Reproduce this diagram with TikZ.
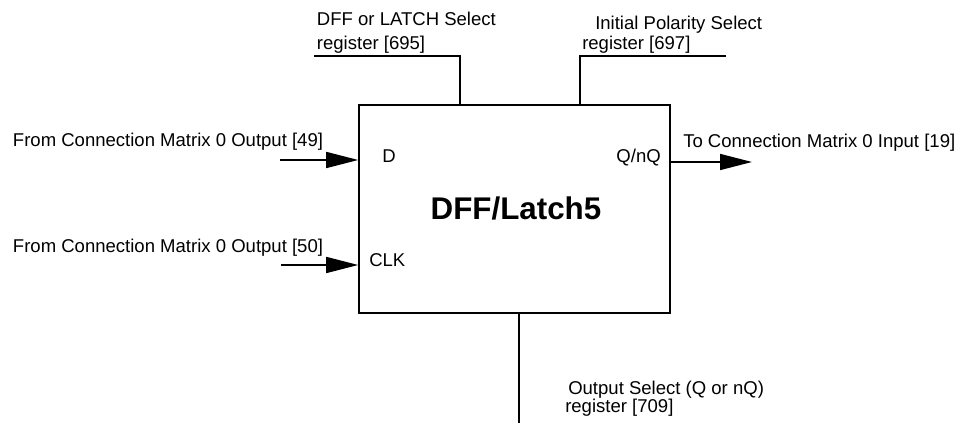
\documentclass[tikz,border=0pt]{standalone}
\usepackage{fontspec}
\setmainfont{Liberation Sans}
\usetikzlibrary{arrows.meta}

\tikzset{
  wire/.style={line width=1.2pt},
  sig/.style={wire, -{Triangle[length=24pt,width=12pt]}},
  lbl/.style={inner sep=0pt, anchor=base west, align=left,
    font=\fontsize{13.9}{18}\selectfont},
}

\begin{document}
\begin{tikzpicture}[x=0.75pt, y=-0.75pt]
    \useasboundingbox (0,0) rectangle (958,423);

    % Draw the block
    \node[draw, wire, minimum width=233.25pt, minimum height=156pt, inner sep=0pt] (dff) at (514.5,209) {};
    \node[inner sep=0pt, anchor=base, font=\fontsize{23.5}{28}\selectfont\bfseries] (title) at (516,220) {DFF/Latch5};

    % Pin names
    \node[lbl] (pinD) at (382,162.5) {D};
    \node[lbl] (pinCLK) at (369,267) {CLK};
    \node[lbl, anchor=base east] (pinQ) at (661,162.5) {Q/nQ};

    % Inputs and output
    \coordinate (inD) at (280,160);
    \coordinate (inCLK) at (281,265);
    \coordinate (outQ) at (752,162);
    \draw[sig] (inD) -- (inD -| dff.west);
    \draw[sig] (inCLK) -- (inCLK -| dff.west);
    \draw[sig] (outQ -| dff.east) -- (outQ);
    \node[lbl] (fromD) at (12.7,147) {From Connection Matrix 0 Output [49]};
    \node[lbl] (fromCLK) at (12.7,253) {From Connection Matrix 0 Output [50]};
    \node[lbl] (toQ) at (683,148) {To Connection Matrix 0 Input [19]};

    % Register lines
    \coordinate (regA) at (314,56);
    \coordinate (tapA) at (460,0);
    \coordinate (regB) at (726,56);
    \coordinate (tapB) at (580,0);
    \coordinate (regC) at (519,423);
    \draw[wire] (regA) -| (dff.north -| tapA);
    \draw[wire] (regB) -| (dff.north -| tapB);
    \draw[wire] (regC) -- (regC |- dff.south);

    % Register labels (base = last line)
    \node[lbl, font=\fontsize{13.9}{18}\selectfont] (selA) at (316.7,50) {DFF or LATCH Select\\register [695]};
    \node[lbl, font=\fontsize{13.9}{15}\selectfont] (selB) at (582,50) {\hspace*{9.75pt}Initial Polarity Select\\register [697]};
    \node[lbl, font=\fontsize{13.9}{13.5}\selectfont] (selC) at (565,413) {\hspace*{2.25pt}Output Select (Q or nQ)\\register [709]};

\end{tikzpicture}
\end{document}
